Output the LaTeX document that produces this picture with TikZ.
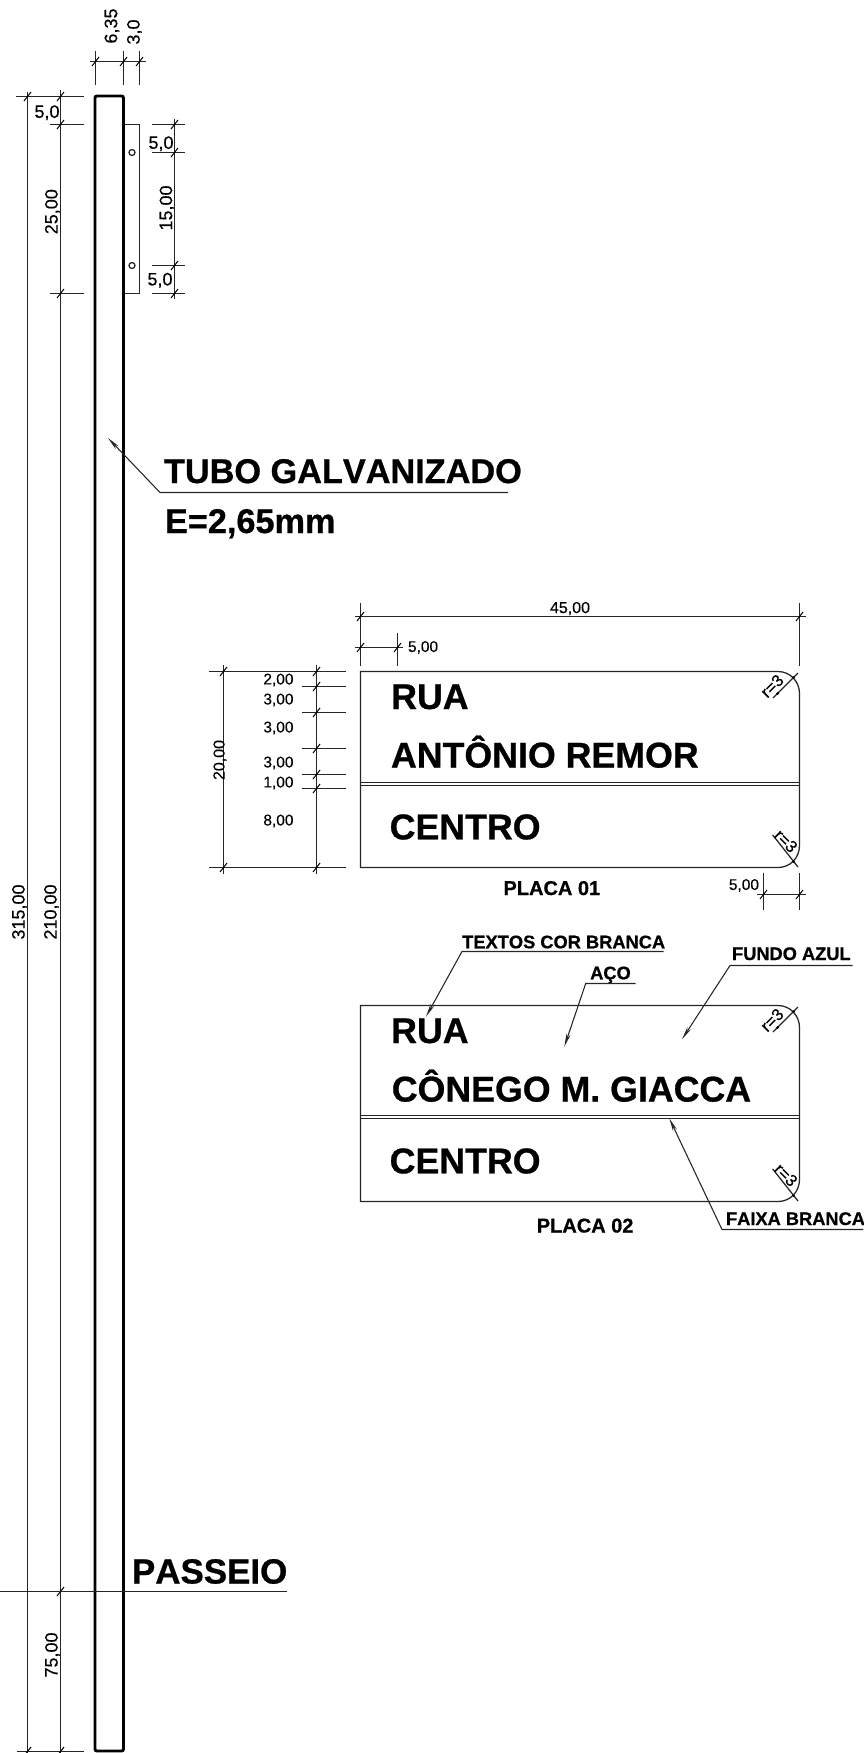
\documentclass[tikz,border=0pt]{standalone}
\usepackage{fontspec}
\setmainfont[Kerning=Off,FakeBold=0.25,BoldFeatures={FakeBold=0.7}]{Liberation Sans}
\usetikzlibrary{arrows.meta}
\newcommand\fsz[1]{\fontsize{#1}{#1}\selectfont}
\tikzset{
  ln/.style={line width=0.95pt,draw=black!85},
  thk/.style={line width=2.2pt,draw=black,rounded corners=1.5pt},
  tickline/.style={line width=0.75pt,draw=black},
  txt/.style={inner sep=0pt,outer sep=0pt,anchor=base west,text=black},
  dimv/.style={inner sep=0pt,outer sep=0pt,rotate=90,font=\fsz{13.5},text=black},
  dimh/.style={inner sep=0pt,outer sep=0pt,font=\fsz{13.5},text=black},
  dimsm/.style={inner sep=0pt,outer sep=0pt,font=\fsz{11.6},text=black},
  big/.style={txt,font=\bfseries\fsz{25.7}},
  sign/.style={txt,font=\bfseries\fsz{26.8}},
  small/.style={txt,font=\bfseries\fsz{13.7}},
  plc/.style={txt,font=\bfseries\fsz{15}},
  leader/.style={line width=0.8pt,draw=black!85,-{Stealth[length=10pt,width=3.2pt]}},
}
\newcommand\tk[2]{\draw[tickline] (#1-3.5,#2+4.5) -- (#1+3.5,#2-4.5);}
\begin{document}
\begin{tikzpicture}[x=0.75pt,y=-0.75pt]
\useasboundingbox (0,0) rectangle (864,1753);
% pipe
\draw[thk] (95,1751) rectangle (123.5,96);
% bracket
\draw[ln] (125,124.5) -- (139.5,124.5) -- (139.5,293.5) -- (125,293.5);
\draw[ln] (132,152.5) circle[radius=3];
\draw[ln] (132,265.5) circle[radius=3];
% top dimension
\draw[ln] (95.5,51) -- (95.5,85);
\draw[ln] (123.5,51) -- (123.5,85);
\draw[ln] (139.5,51) -- (139.5,85);
\draw[ln] (90,61.5) -- (146,61.5);
\tk{95.5}{61.5}\tk{123.5}{61.5}\tk{139.5}{61.5}
\node[dimv] (d635) at (112,26) {6,35};
\node[dimv] (d30) at (134.5,32) {3,0};
% left dimensions
\draw[ln] (27.5,92) -- (27.5,1753);
\draw[ln] (60.5,90) -- (60.5,1753);
\draw[ln] (16,96.5) -- (84,96.5);
\draw[ln] (50,124.5) -- (84,124.5);
\draw[ln] (50,293.5) -- (84,293.5);
\draw[ln] (17,1751.5) -- (84,1751.5);
\tk{27.5}{96.5}\tk{60.5}{96.5}\tk{60.5}{124.5}\tk{60.5}{293.5}\tk{60.5}{1591.5}\tk{27.5}{1751.5}\tk{60.5}{1751.5}
\node[dimh] (d50a) at (47,112.7) {5,0};
\node[dimv] (d25) at (52.5,211.7) {25,00};
\node[dimv] (d315) at (19.5,912) {315,00};
\node[dimv] (d210) at (51.5,912) {210,00};
\node[dimv] (d75) at (52.5,1655) {75,00};
% right dimensions
\draw[ln] (174.5,119) -- (174.5,299);
\foreach \yy in {124.5,152.5,265.5,293.5}{
  \draw[ln] (152,\yy) -- (185,\yy);
  \tk{174.5}{\yy}
}
\node[dimh] (d50b) at (161,143.7) {5,0};
\node[dimv] (d15) at (167,208) {15,00};
\node[dimh] (d50c) at (160,280.3) {5,0};
% tube label
\node[big] (tubo) at (164,483) {TUBO GALVANIZADO};
\node[big] (esp) at (165,533) {E=2,65mm};
\coordinate (tuboE) at (508,492.5);
\coordinate (tuboB) at (160,492.5);
\coordinate (tuboT) at (108,438);
\draw[leader] (tuboE) -- (tuboB) -- (tuboT);
% passeio
\node[big,font=\bfseries\fsz{26.2}] (pass) at (132,1583.5) {PASSEIO};
\draw[ln] (0,1591.5) -- (287,1591.5);
% plates
\foreach \dy/\nm/\sy in {0/a/0,334/b/-1}{
\begin{scope}[shift={(0,\dy)}]
  \draw[ln] (360.5,867.5) -- (360.5,671.5) -- (778,671.5)
     .. controls (790.2,671.5) and (799.5,681.5) .. (799.5,693.5)
     -- (799.5,845.5)
     .. controls (799.5,857.9) and (790.2,867.5) .. (778,867.5) -- cycle;
  \draw[ln] (360.5,782.5+\sy) -- (799.5,782.5+\sy);
  \draw[ln] (360.5,785.5+\sy) -- (799.5,785.5+\sy);
  \draw[ln] (798,673) -- (773,698);
  \fill[black] (793.5,677.5) circle[radius=1.5];
  \fill[black] (777.7,693.5) circle[radius=1.5];
  \node[inner sep=0pt,rotate=45,font=\fsz{12.5}] (rt\nm) at (772,686) {r=3};
  \draw[ln] (798,867) -- (772.7,835);
  \fill[black] (793.5,861.5) circle[radius=1.5];
  \node[inner sep=0pt,rotate=-45,font=\fsz{12.5}] (rb\nm) at (786,841) {r=3};
  \node[sign] (rua\nm) at (391.2,709) {RUA};
  \node[sign] (cen\nm) at (389.7,839.3) {CENTRO};
\end{scope}
}
\node[sign] (ant) at (391,767.5) {ANTÔNIO REMOR};
\node[sign] (con) at (391.8,1101.5) {CÔNEGO M. GIACCA};
\node[plc] (p1) at (503.5,895) {PLACA 01};
\node[plc] (p2) at (536.8,1232.5) {PLACA 02};
% plate 1 dims
\draw[ln] (360.5,603) -- (360.5,666);
\draw[ln] (799.5,603) -- (799.5,666);
\draw[ln] (397.5,633) -- (397.5,666);
\draw[ln] (355,616.5) -- (806,616.5);
\draw[ln] (355,647.5) -- (403,647.5);
\tk{360.5}{616.5}\tk{799.5}{616.5}\tk{360.5}{647.5}\tk{397.5}{647.5}
\node[dimsm,font=\fsz{12}] (d45) at (570,608.5) {45,00};
\node[dimsm,anchor=west] (d500a) at (408,647.5) {5,00};
\draw[ln] (223.5,665) -- (223.5,874);
\draw[ln] (316.5,665) -- (316.5,874);
\draw[ln] (209,671.5) -- (346,671.5);
\draw[ln] (209,867.5) -- (346,867.5);
\foreach \yy in {686.5,712.5,748.5,774.5,788.5}{
  \draw[ln] (302,\yy) -- (346,\yy);
  \tk{316.5}{\yy}
}
\tk{223.5}{671.5}\tk{316.5}{671.5}\tk{223.5}{867.5}\tk{316.5}{867.5}
\node[dimsm,font=\fsz{12},rotate=90] (d20) at (220,760) {20,00};
\node[dimsm,anchor=east] (l1) at (293.5,680) {2,00};
\node[dimsm,anchor=east] (l2) at (293.5,700) {3,00};
\node[dimsm,anchor=east] (l3) at (293.5,728) {3,00};
\node[dimsm,anchor=east] (l4) at (293.5,763) {3,00};
\node[dimsm,anchor=east] (l5) at (293.5,783) {1,00};
\node[dimsm,anchor=east] (l6) at (293.5,821) {8,00};
\draw[ln] (763.5,873) -- (763.5,910);
\draw[ln] (799.5,873) -- (799.5,910);
\draw[ln] (757,894.5) -- (806,894.5);
\tk{763.5}{894.5}\tk{799.5}{894.5}
\node[dimsm,anchor=east] (d500b) at (759,885.5) {5,00};
% callouts
\node[small] (txtb) at (462.2,948.3) {TEXTOS COR BRANCA};
\coordinate (c1e) at (663.5,951.5);
\coordinate (c1b) at (462,951.5);
\coordinate (c1t) at (426,1016.7);
\draw[leader] (c1e) -- (c1b) -- (c1t);
\node[small] (aco) at (590.2,979.3) {AÇO};
\coordinate (c2e) at (635.7,983.5);
\coordinate (c2b) at (585.7,983.5);
\coordinate (c2t) at (564.3,1046.7);
\draw[leader] (c2e) -- (c2b) -- (c2t);
\node[small] (fun) at (732,960) {FUNDO AZUL};
\coordinate (c3e) at (852.7,965.5);
\coordinate (c3b) at (730,965.5);
\coordinate (c3t) at (682,1039.3);
\draw[leader] (c3e) -- (c3b) -- (c3t);
\node[small] (fai) at (726,1225) {FAIXA BRANCA};
\coordinate (c4e) at (863.3,1229.5);
\coordinate (c4b) at (722,1229.5);
\coordinate (c4t) at (669.3,1118.3);
\draw[leader] (c4e) -- (c4b) -- (c4t);
\end{tikzpicture}
\end{document}
